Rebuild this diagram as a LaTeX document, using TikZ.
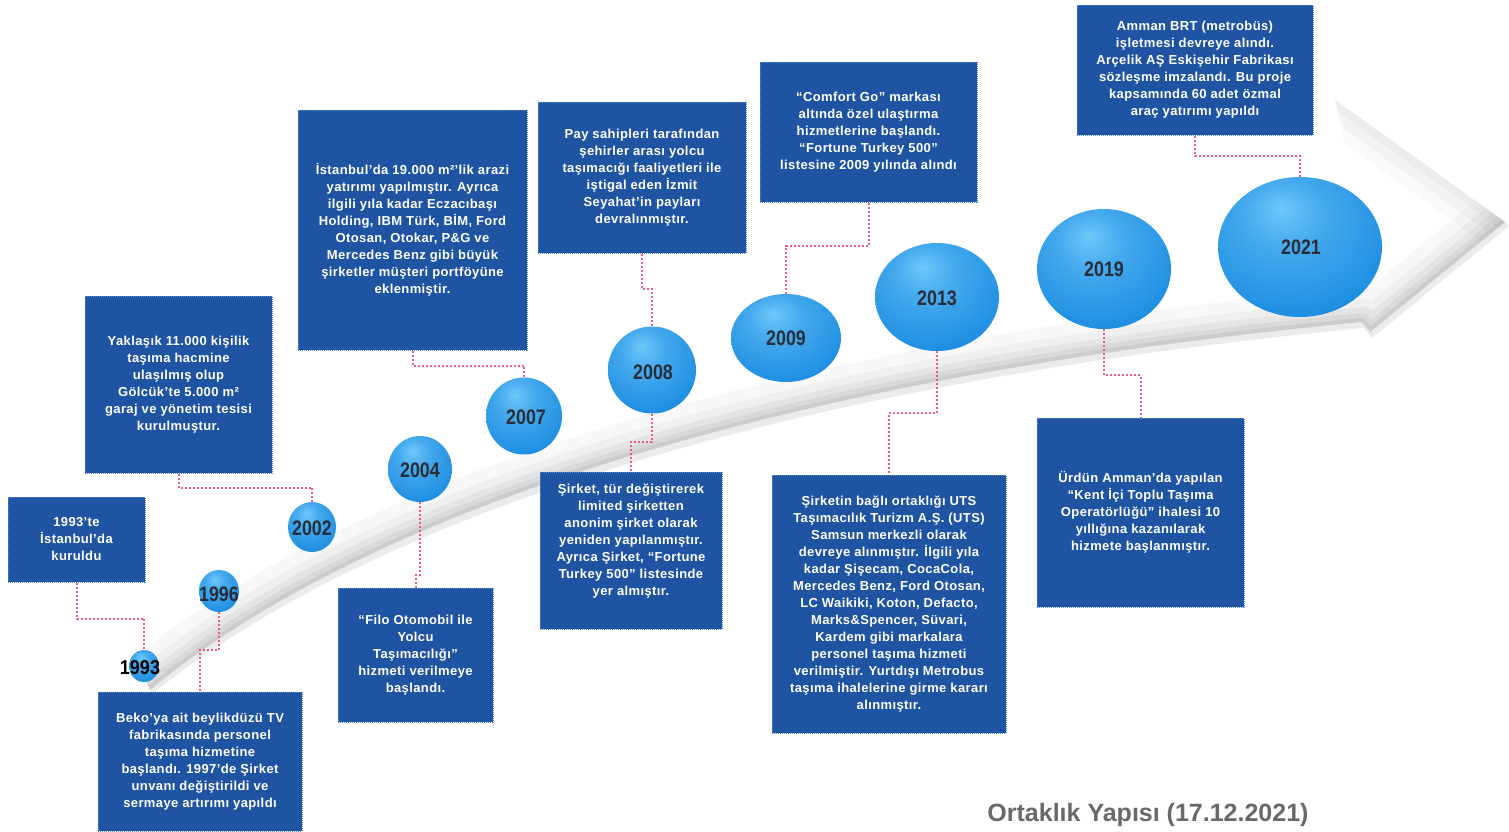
\documentclass[tikz,border=0pt]{standalone}
\usepackage{fontspec}
\setmainfont{Liberation Sans}
\newfontfamily\boxfont[LetterSpace=3]{Liberation Sans}
\usetikzlibrary{shapes.geometric}
\definecolor{boxblue}{RGB}{31,84,163}
\definecolor{boxedge}{RGB}{85,140,215}
\definecolor{conncol}{RGB}{232,96,128}
\definecolor{ballhi}{RGB}{110,200,250}
\definecolor{ballmid}{RGB}{28,140,225}
\definecolor{balledge}{RGB}{8,88,178}
\definecolor{yearcol}{RGB}{40,45,55}
\definecolor{titlecol}{RGB}{105,105,105}
\pgfdeclareradialshading{sphere}{\pgfpoint{-6bp}{14bp}}{color(0bp)=(ballhi); color(12bp)=(ballhi!50!ballmid); color(34bp)=(ballmid); color(52bp)=(balledge); color(70bp)=(balledge)}
\tikzset{
  box/.style={rectangle, fill=boxblue, draw=boxedge, densely dotted, line width=1pt, inner sep=0pt, text=white, align=center, font=\boxfont\bfseries\fontsize{13}{17}\selectfont},
  boxtext/.style={inner sep=0pt, text=white, align=center, font=\boxfont\bfseries\fontsize{13}{17}\selectfont},
  ball/.style={ellipse, inner sep=0pt, shading=sphere, draw=none},
  yearlab/.style={inner sep=0pt, text=yearcol, font=\bfseries\fontsize{21}{21}\selectfont},
  conn/.style={draw=conncol, dotted, line width=2pt},
}
\begin{document}
\begin{tikzpicture}[x=1pt,y=-1pt]
\useasboundingbox (0,0) rectangle (1509,831);
\fill[white] (0,0) rectangle (1509,831);
\clip (0,0) rectangle (1509,831);

% arrow ribbon
\fill[gray!30, opacity=0.5] (152,694) .. controls (335,546) and (705,391) .. (1364,328) -- (1372,338) -- (1509,226) -- (1505,222) -- (1370,332) -- (1362,322) .. controls (700,385) and (330,540) .. (150,690) -- cycle;
\fill[white] (138,660) .. controls (400,330) and (800,170) .. (1345,140) -- (1335,100) -- (1505,222) -- (1370,332) -- (1362,322) .. controls (700,385) and (330,540) .. (150,690) -- cycle;
\begin{scope}
\clip (138,660) .. controls (400,330) and (800,170) .. (1345,140) -- (1335,100) -- (1505,222) -- (1370,332) -- (1362,322) .. controls (700,385) and (330,540) .. (150,690) -- cycle;
\foreach \w/\o in {70/0.05,46/0.07,30/0.09,18/0.11,8/0.14}
  \draw[line width=\w pt, gray, opacity=\o, line join=round] (150,690) .. controls (330,540) and (700,385) .. (1362,322) -- (1370,332) -- (1505,222);
\foreach \w/\o in {60/0.04,36/0.05,16/0.06}
  \draw[line width=\w pt, gray, opacity=\o, line join=round] (1335,100) -- (1505,222);
\end{scope}

% balls
\node[ball, minimum width=30pt, minimum height=32pt] (c93) at (144,666) {};
\node[ball, minimum width=40pt, minimum height=42pt] (c96) at (219,591) {};
\node[ball, minimum width=48pt, minimum height=50pt] (c02) at (312,527) {};
\node[ball, minimum width=64pt, minimum height=66pt] (c04) at (420,469) {};
\node[ball, minimum width=76pt, minimum height=77pt] (c07) at (524,416) {};
\node[ball, minimum width=88pt, minimum height=87pt] (c08) at (652,370) {};
\node[ball, minimum width=110pt, minimum height=88pt] (c09) at (786,338) {};
\node[ball, minimum width=124pt, minimum height=108pt] (c13) at (937,297) {};
\node[ball, minimum width=134pt, minimum height=120pt] (c19) at (1104,269) {};
\node[ball, minimum width=164pt, minimum height=140pt] (c21) at (1300,247) {};

% year labels
\node[yearlab, text=black, font=\bfseries\fontsize{20}{20}\selectfont] (y93) at (140,668) {\scalebox{0.9}[1]{1993}};
\node[yearlab] (y96) at (219,594) {\scalebox{0.85}[1]{1996}};
\node[yearlab] (y02) at (312,528) {\scalebox{0.85}[1]{2002}};
\node[yearlab] (y04) at (420,470) {\scalebox{0.85}[1]{2004}};
\node[yearlab] (y07) at (526,417) {\scalebox{0.85}[1]{2007}};
\node[yearlab] (y08) at (653,372) {\scalebox{0.85}[1]{2008}};
\node[yearlab] (y09) at (786,338) {\scalebox{0.85}[1]{2009}};
\node[yearlab] (y13) at (937,298) {\scalebox{0.85}[1]{2013}};
\node[yearlab] (y19) at (1104,269) {\scalebox{0.85}[1]{2019}};
\node[yearlab] (y21) at (1301,247) {\scalebox{0.85}[1]{2021}};

% boxes
\node[box, minimum width=137pt, minimum height=85pt] (b93) at (76.5,539.5) {1993’te\\İstanbul’da\\kuruldu};
\node[box, minimum width=204pt, minimum height=139pt] (b96) at (200,761.5) {Beko’ya ait beylikdüzü TV\\fabrikasında personel\\taşıma hizmetine\\başlandı. 1997’de Şirket\\unvanı değiştirildi ve\\sermaye artırımı yapıldı};
\node[box, minimum width=187pt, minimum height=177pt] (b02) at (178.5,384.5) {Yaklaşık 11.000 kişilik\\taşıma hacmine\\ulaşılmış olup\\Gölcük’te 5.000 m²\\garaj ve yönetim tesisi\\kurulmuştur.};
\node[box, minimum width=229pt, minimum height=240pt] (b07) at (412.5,230) {İstanbul’da 19.000 m²’lik arazi\\yatırımı yapılmıştır. Ayrıca\\ilgili yıla kadar Eczacıbaşı\\Holding, IBM Türk, BİM, Ford\\Otosan, Otokar, P\&G ve\\Mercedes Benz gibi büyük\\şirketler müşteri portföyüne\\eklenmiştir.};
\node[box, minimum width=155pt, minimum height=134pt] (b04) at (415.5,655) {“Filo Otomobil ile\\Yolcu\\Taşımacılığı”\\hizmeti verilmeye\\başlandı.};
\node[box, minimum width=208pt, minimum height=151pt] (b08a) at (642,177.5) {Pay sahipleri tarafından\\şehirler arası yolcu\\taşımacığı faaliyetleri ile\\iştigal eden İzmit\\Seyahat’in payları\\devralınmıştır.};
\node[box, minimum width=182pt, minimum height=157pt] (b08b) at (631,550.5) {};
\node[boxtext] (t08b) at (631,541.5) {Şirket, tür değiştirerek\\limited şirketten\\anonim şirket olarak\\yeniden yapılanmıştır.\\Ayrıca Şirket, “Fortune\\Turkey 500” listesinde\\yer almıştır.};
\node[box, minimum width=217pt, minimum height=140pt] (b09) at (868.5,132) {“Comfort Go” markası\\altında özel ulaştırma\\hizmetlerine başlandı.\\“Fortune Turkey 500”\\listesine 2009 yılında alındı};
\node[box, minimum width=234pt, minimum height=258pt] (b13) at (889,604) {Şirketin bağlı ortaklığı UTS\\Taşımacılık Turizm A.Ş. (UTS)\\Samsun merkezli olarak\\devreye alınmıştır. İlgili yıla\\kadar Şişecam, CocaCola,\\Mercedes Benz, Ford Otosan,\\LC Waikiki, Koton, Defacto,\\Marks\&Spencer, Süvari,\\Kardem gibi markalara\\personel taşıma hizmeti\\verilmiştir. Yurtdışı Metrobus\\taşıma ihalelerine girme kararı\\alınmıştır.};
\node[box, minimum width=207pt, minimum height=189pt] (b19) at (1140.5,512.5) {Ürdün Amman’da yapılan\\“Kent İçi Toplu Taşıma\\Operatörlüğü” ihalesi 10\\yıllığına kazanılarak\\hizmete başlanmıştır.};
\node[box, minimum width=236pt, minimum height=130pt] (b21) at (1195,70) {Amman BRT (metrobüs)\\işletmesi devreye alındı.\\Arçelik AŞ Eskişehir Fabrikası\\sözleşme imzalandı. Bu proje\\kapsamında 60 adet özmal\\araç yatırımı yapıldı};

% connectors
\draw[conn] (b93.south) -- ++(0,36) -| (c93.north);
\draw[conn] (c96.south) -- ++(0,38) -| (b96.north);
\draw[conn] (b02.south) -- ++(0,14) -| (c02.north);
\draw[conn] (c04.south) -- ++(0,73) -| (b04.north);
\draw[conn] (b07.south) -- ++(0,15) -| (c07.north);
\draw[conn] (b08a.south) -- ++(0,35) -| (c08.north);
\draw[conn] (c08.south) -- ++(0,28) -| (b08b.north);
\draw[conn] (b09.south) -- ++(0,43) -| (c09.north);
\draw[conn] (c13.south) -- ++(0,62) -| (b13.north);
\draw[conn] (c19.south) -- ++(0,46) -| (b19.north);
\draw[conn] (b21.south) -- ++(0,20) -| (c21.north);

% title
\node[inner sep=0pt, text=titlecol, font=\bfseries\fontsize{25}{25}\selectfont] (title) at (1148,815) {Ortaklık Yapısı (17.12.2021)};
\end{tikzpicture}
\end{document}
